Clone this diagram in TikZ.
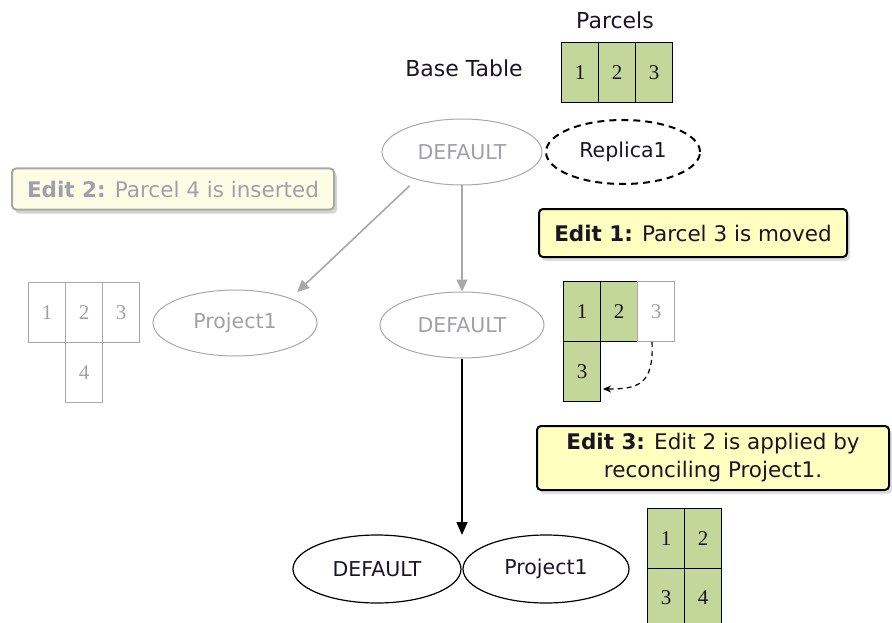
\documentclass[tikz,border=0pt]{standalone}
\usepackage{fontspec}
\setmainfont{DejaVu Sans}
\newfontfamily\numfont{Liberation Serif}
\usetikzlibrary{shapes.geometric,arrows.meta,shadows}

\definecolor{parcelgreen}{HTML}{C4D79B}
\definecolor{notefill}{HTML}{FFFFC0}
\definecolor{notefaded}{HTML}{FDFDE6}
\definecolor{fadeline}{HTML}{A8A8A8}
\definecolor{fadetext}{HTML}{A0A0AC}
\definecolor{inktext}{HTML}{1C1426}

\tikzset{
  lbl/.style={font=\fontsize{22}{26}\selectfont, text=inktext, inner sep=0pt},
  ver/.style={ellipse, draw, line width=1.2pt, inner sep=0pt,
    minimum width=160pt, minimum height=66pt,
    font=\fontsize{20.5}{24}\selectfont, text=inktext},
  verfaded/.style={ver, draw=fadeline, line width=1pt, text=fadetext},
  cell/.style={rectangle, draw, line width=1.2pt, anchor=north west,
    minimum width=37pt, minimum height=60pt, inner sep=0pt,
    font=\numfont\fontsize{21}{24}\selectfont, text=inktext},
  gcell/.style={cell, fill=parcelgreen},
  fcell/.style={cell, draw=fadeline, line width=1pt, text=fadetext},
  note/.style={rectangle, rounded corners=4pt, line width=2pt, draw=black,
    fill=notefill, align=center, inner sep=0pt,
    font=\fontsize{21.5}{28}\selectfont, text=inktext,
    drop shadow={opacity=0.25, shadow xshift=3pt, shadow yshift=-4pt}},
  notefade/.style={note, draw=fadeline, fill=notefaded, text=fadetext,
    drop shadow={opacity=0.12, shadow xshift=3pt, shadow yshift=-4pt}},
  fadearrow/.style={draw=fadeline, line width=1.6pt,
    -{Triangle[length=12pt,width=11pt]}},
  mainarrow/.style={draw=black, line width=1.6pt,
    -{Triangle[length=13pt,width=11pt]}},
}

\begin{document}
\begin{tikzpicture}[x=1pt, y=-1pt]
\useasboundingbox (0,0) rectangle (892,623);

% base table with its three parcels
\node[lbl] (parcels) at (615,20) {Parcels};
\node[lbl] (basetbl) at (464,68) {Base Table};
\node[gcell] (b1) at (561,42) {1};
\node[gcell] (b2) at (598,42) {2};
\node[gcell] (b3) at (635,42) {3};

% top versions
\node[verfaded] (def0) at (462,152) {DEFAULT};
\node[ver, dashed, line width=2pt, minimum width=154pt, minimum height=64pt,
      dash pattern=on 7pt off 5pt] (rep) at (623,152) {Replica1};

% edit notes
\node[notefade, minimum width=322pt, minimum height=41pt] (e2) at (173,189)
  {\textbf{Edit 2:} Parcel 4 is inserted};
\node[note, minimum width=308pt, minimum height=48pt] (e1) at (693,233)
  {\textbf{Edit 1:} Parcel 3 is moved};
\node[note, minimum width=352pt, minimum height=64pt] (e3) at (713,458)
  {\textbf{Edit 3:} Edit 2 is applied by\\reconciling Project1.};

% middle versions
\node[verfaded, minimum width=164pt] (proj) at (235,323) {Project1};
\node[verfaded, minimum width=164pt] (def1) at (462,325) {DEFAULT};

\draw[fadearrow, shorten <=9pt, shorten >=9pt] (def0.211) -- (proj.24);
\draw[fadearrow] (def0.south) -- (def1.north);

% parcels after Edit 2 (Project1)
\node[fcell] (p1) at (28,282) {1};
\node[fcell] (p2) at (65,282) {2};
\node[fcell] (p3) at (102,282) {3};
\node[fcell] (p4) at (65,342) {4};

% parcels after Edit 1 (DEFAULT)
\node[gcell] (d1) at (563,281) {1};
\node[gcell] (d2) at (600,281) {2};
\node[fcell, fill=white] (d3old) at (637,281) {3};
\node[gcell] (d3) at (563,341) {3};
\coordinate (mvend) at (603,389);
\draw[dashed, line width=1.2pt, dash pattern=on 5pt off 4pt, -{Stealth[length=8pt,width=7pt]}]
  ([xshift=-4pt]d3old.south) .. controls (654,385) and (638,389) .. (mvend);

% bottom versions after reconcile
\node[ver, minimum width=168pt, minimum height=68pt] (def2) at (377,569) {DEFAULT};
\node[ver, minimum width=166pt, minimum height=68pt] (proj2) at (546,569) {Project1};
\coordinate (meet) at (462,535);
\draw[mainarrow] (def1.south) -- (meet);

\node[gcell] (r1) at (647,508) {1};
\node[gcell] (r2) at (684,508) {2};
\node[gcell, minimum height=58pt] (r3) at (647,568) {3};
\node[gcell, minimum height=58pt] (r4) at (684,568) {4};
\end{tikzpicture}
\end{document}
